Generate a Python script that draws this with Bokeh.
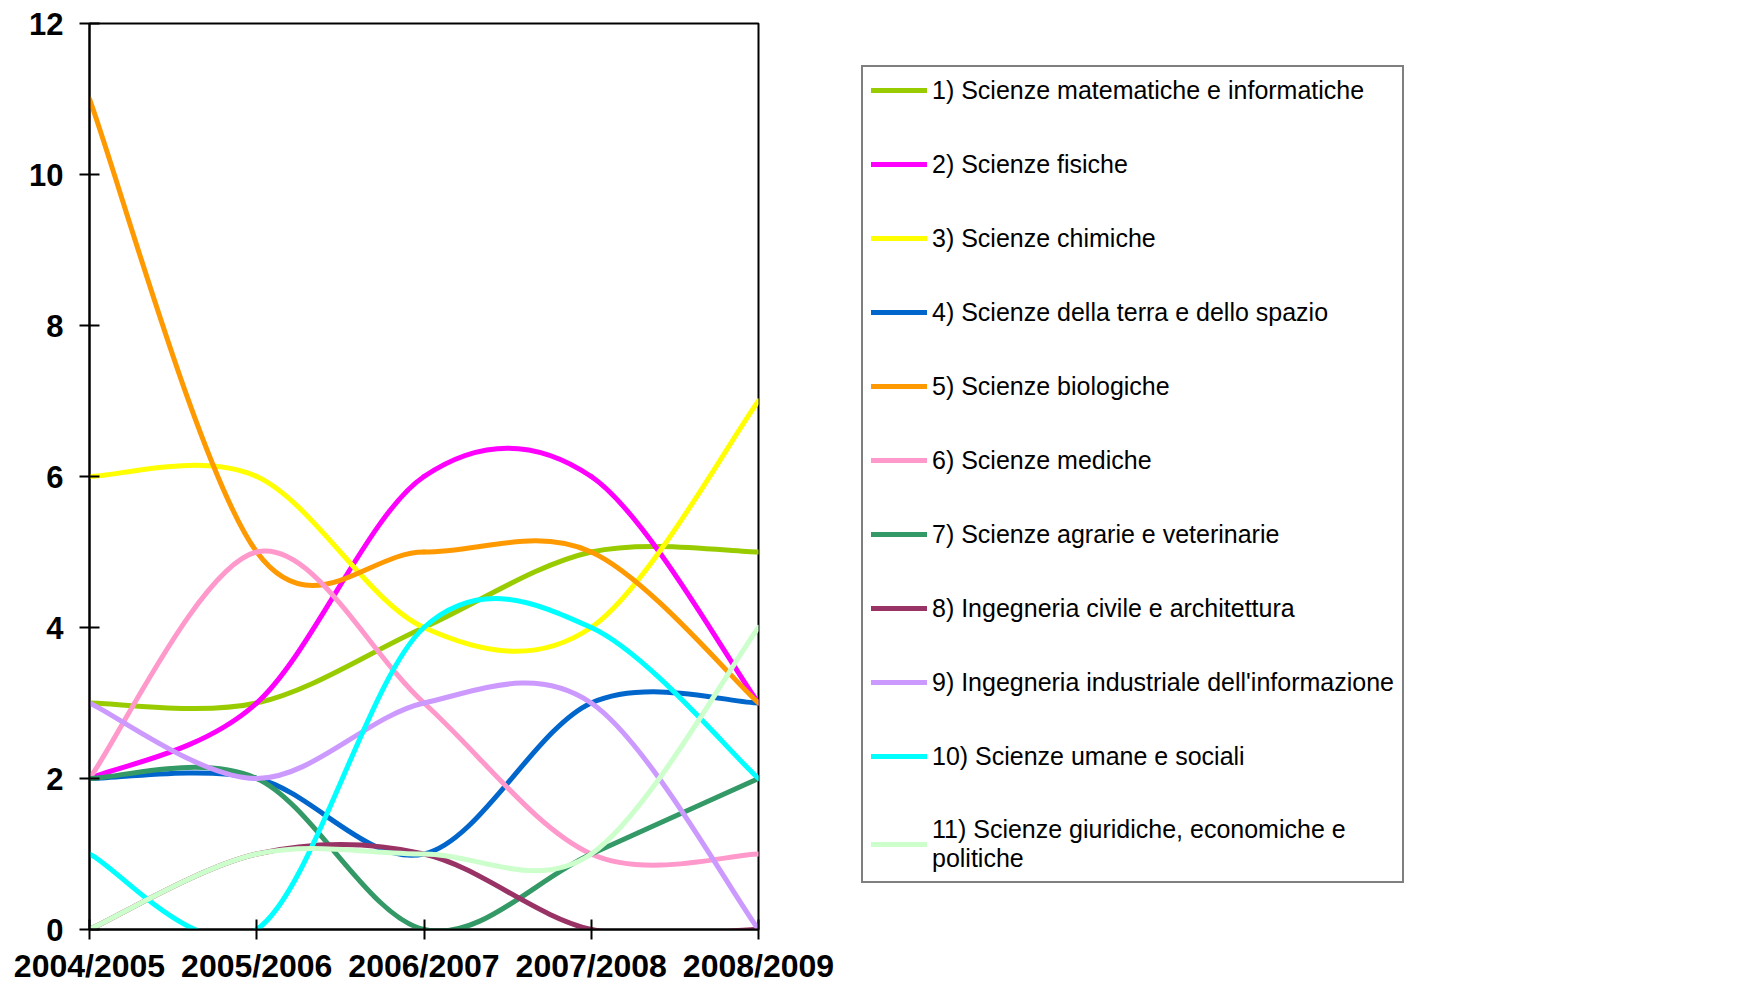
from bokeh.plotting import figure
from bokeh.layouts import column
from bokeh.models import Range1d, FixedTicker, Legend, LegendItem, ColumnDataSource
from bokeh.embed import file_html
from bokeh.resources import INLINE

# ---- data ----
years = ["2004/2005", "2005/2006", "2006/2007", "2007/2008", "2008/2009"]

names = [
    "1) Scienze matematiche e informatiche",
    "2) Scienze fisiche",
    "3) Scienze chimiche",
    "4) Scienze della terra e dello spazio",
    "5) Scienze biologiche",
    "6) Scienze mediche",
    "7) Scienze agrarie e veterinarie",
    "8) Ingegneria civile e architettura",
    "9) Ingegneria industriale dell'informazione",
    "10) Scienze umane e sociali",
    "11) Scienze giuridiche, economiche e\npolitiche",
]

s_matematiche = [3, 3, 4, 5, 5]
s_fisiche = [2, 3, 6, 6, 3]
s_chimiche = [6, 6, 4, 4, 7]
s_terra = [2, 2, 1, 3, 3]
s_biologiche = [11, 5, 5, 5, 3]
s_mediche = [2, 5, 3, 1, 1]
s_agrarie = [2, 2, 0, 1, 2]
s_civile = [0, 1, 1, 0, 0]
s_industriale = [3, 2, 3, 3, 0]
s_umane = [1, 0, 4, 4, 2]
s_giuridiche = [0, 1, 1, 1, 4]

series = [s_matematiche, s_fisiche, s_chimiche, s_terra, s_biologiche, s_mediche,
          s_agrarie, s_civile, s_industriale, s_umane, s_giuridiche]

colors = ["#99CC00", "#FF00FF", "#FFFF00", "#0066CC", "#FF9900", "#FF99CC",
          "#339966", "#993366", "#CC99FF", "#00FFFF", "#CCFFCC"]


def smooth_segments(ys):
    """Bezier segments of a Catmull-Rom style smoothed line (like a spreadsheet 'smoothed line')."""
    pts = [(float(i), float(v)) for i, v in enumerate(ys)]
    n = len(pts)
    d = dict(x0=[], y0=[], x1=[], y1=[], cx0=[], cy0=[], cx1=[], cy1=[])
    for i in range(n - 1):
        p0, p1 = pts[i], pts[i + 1]
        pm = pts[i - 1] if i > 0 else pts[i]
        pp = pts[i + 2] if i + 2 < n else pts[i + 1]
        d["x0"].append(p0[0]); d["y0"].append(p0[1])
        d["x1"].append(p1[0]); d["y1"].append(p1[1])
        d["cx0"].append(p0[0] + (p1[0] - pm[0]) / 6.0)
        d["cy0"].append(p0[1] + (p1[1] - pm[1]) / 6.0)
        d["cx1"].append(p1[0] - (pp[0] - p0[0]) / 6.0)
        d["cy1"].append(p1[1] - (pp[1] - p0[1]) / 6.0)
    return d


p = figure(width=2090, height=986,
           x_range=Range1d(0, 4), y_range=Range1d(0, 12),
           output_backend="svg", toolbar_location=None,
           min_border_left=89, min_border_right=0,
           min_border_top=23, min_border_bottom=55)

p.xgrid.visible = False
p.ygrid.visible = False
p.outline_line_color = "black"
p.outline_line_width = 2
p.background_fill_color = "white"
p.border_fill_color = "white"

for ax in (p.xaxis[0], p.yaxis[0]):
    ax.axis_line_color = "black"
    ax.axis_line_width = 2
    ax.major_tick_line_color = "black"
    ax.major_tick_line_width = 2
    ax.major_tick_in = 10
    ax.major_tick_out = 10
    ax.minor_tick_line_color = None
    ax.major_label_text_font = "Liberation Sans"
    ax.major_label_text_font_style = "bold"
    ax.major_label_text_color = "black"

p.xaxis.ticker = FixedTicker(ticks=list(range(len(years))))
p.xaxis.major_label_overrides = {i: y for i, y in enumerate(years)}
p.xaxis.major_label_standoff = 8
p.xaxis.major_label_text_font_size = "32px"
p.yaxis.ticker = FixedTicker(ticks=[0, 2, 4, 6, 8, 10, 12])
p.yaxis.major_label_standoff = 16
p.yaxis.major_label_text_font_size = "31px"

items = []
for name, ys, c in zip(names, series, colors):
    src = ColumnDataSource(smooth_segments(ys))
    r = p.bezier(x0="x0", y0="y0", x1="x1", y1="y1", cx0="cx0", cy0="cy0",
                 cx1="cx1", cy1="cy1", source=src,
                 line_color=c, line_width=5, line_cap="round")
    items.append(LegendItem(label=name, renderers=[r]))

legend = Legend(items=items, location=(103, 46), ncols=1)
legend.label_text_font = "Liberation Sans"
legend.label_text_font_size = "25px"
legend.label_text_color = "black"
legend.glyph_width = 56
legend.glyph_height = 30
legend.label_height = 30
legend.spacing = 44
legend.padding = 8
legend.margin = 0
legend.label_standoff = 5
legend.border_line_color = "black"
legend.border_line_width = 2
legend.background_fill_color = "white"
legend.background_fill_alpha = 1.0
p.add_layout(legend, "right")

page = column(p, width=1745, height=986, styles={"overflow": "hidden"})

open("out.html", "w").write(file_html(page, INLINE))
